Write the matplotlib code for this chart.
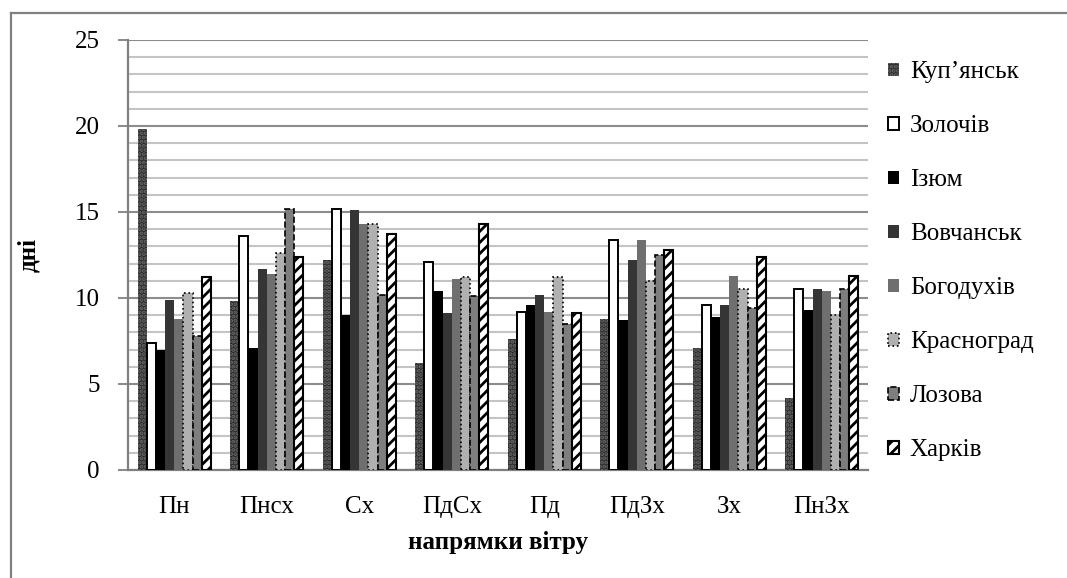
import numpy as np
import matplotlib as mpl
import matplotlib.pyplot as plt
from matplotlib.lines import Line2D

mpl.rcParams['font.family'] = ['Liberation Serif', 'DejaVu Serif']
mpl.rcParams['hatch.linewidth'] = 2.0

directions = ['Пн', 'Пнсх', 'Сх', 'ПдСх', 'Пд', 'ПдЗх', 'Зх', 'ПнЗх']

kupiansk = [19.8, 9.8, 12.2, 6.2, 7.6, 8.8, 7.1, 4.2]
zolochiv = [7.4, 13.6, 15.2, 12.1, 9.2, 13.4, 9.6, 10.5]
izium = [7.0, 7.1, 9.0, 10.4, 9.6, 8.7, 8.9, 9.3]
vovchansk = [9.9, 11.7, 15.1, 9.1, 10.2, 12.2, 9.6, 10.5]
bohodukhiv = [8.8, 11.4, 14.3, 11.1, 9.2, 13.4, 11.3, 10.4]
krasnohrad = [10.3, 12.6, 14.3, 11.2, 11.2, 11.0, 10.5, 9.0]
lozova = [7.8, 15.2, 10.2, 10.1, 8.5, 12.5, 9.4, 10.5]
kharkiv = [11.2, 12.4, 13.7, 14.3, 9.1, 12.8, 12.4, 11.3]

series = [
    ('Куп’янськ', kupiansk, dict(facecolor='#2a2a2a', edgecolor='#6a6a6a', hatch='....', linewidth=0)),
    ('Золочів', zolochiv, dict(facecolor='white', edgecolor='black', linewidth=1.4)),
    ('Ізюм', izium, dict(facecolor='black', edgecolor='black', linewidth=0)),
    ('Вовчанськ', vovchansk, dict(facecolor='#353535', edgecolor='#353535', linewidth=0)),
    ('Богодухів', bohodukhiv, dict(facecolor='#6f6f6f', edgecolor='#6f6f6f', linewidth=0)),
    ('Красноград', krasnohrad, dict(facecolor='#b0b0b0', edgecolor='black', linewidth=1.2, linestyle=':')),
    ('Лозова', lozova, dict(facecolor='#7e7e7e', edgecolor='black', linewidth=1.2, linestyle='--')),
    ('Харків', kharkiv, dict(facecolor='white', edgecolor='black', hatch='///', linewidth=1.5)),
]

fig = plt.figure(figsize=(10.67, 5.78), dpi=100)
ax = fig.add_axes([128 / 1067, 1 - 470 / 578, 740 / 1067, 430 / 578])

x = np.arange(len(directions))
n = len(series)
width = 0.79 / n
for i, (name, vals, style) in enumerate(series):
    ax.bar(x - 0.395 + width * (i + 0.5), vals, width, label=name, zorder=3, **style)

ax.set_xlim(-0.5, len(directions) - 0.5)
ax.set_ylim(0, 25)
ax.set_yticks(np.arange(0, 26, 5))
ax.set_yticks(np.arange(0, 26, 1), minor=True)
ax.grid(axis='y', which='major', color='#8c8c8c', linewidth=1.5, zorder=0)
ax.grid(axis='y', which='minor', color='#c4c4c4', linewidth=1.5, zorder=0)
ax.set_axisbelow(True)

ax.set_xticks(x)
ax.set_xticklabels(directions, fontsize=18)
ax.tick_params(axis='x', length=0, pad=19)
ax.tick_params(axis='y', which='major', length=7.2, width=1.3, color='#808080', labelsize=18, pad=13)
ax.tick_params(axis='y', which='minor', length=0)

for side in ['top', 'right']:
    ax.spines[side].set_visible(False)
for side in ['left', 'bottom']:
    ax.spines[side].set_color('#808080')
    ax.spines[side].set_linewidth(1.6)

ax.set_ylabel('дні', fontsize=18, fontweight='bold', labelpad=25)
ax.set_xlabel('напрямки вітру', fontsize=18, fontweight='bold', labelpad=9)

ax.legend(loc='upper left', bbox_to_anchor=(878 / 1067, 1 - 51 / 578),
          bbox_transform=fig.transFigure, frameon=False, fontsize=18,
          handlelength=0.42, handleheight=0.42, handletextpad=0.45,
          labelspacing=1.28, borderaxespad=0)

# outer chart frame
fig.add_artist(Line2D([11 / 1067, 11 / 1067], [0, 1 - 13 / 578],
                      transform=fig.transFigure, color='#808080', linewidth=1.6))
fig.add_artist(Line2D([11 / 1067, 1], [1 - 13 / 578, 1 - 13 / 578],
                      transform=fig.transFigure, color='#808080', linewidth=1.6))

fig.savefig('out.png', dpi=100)
